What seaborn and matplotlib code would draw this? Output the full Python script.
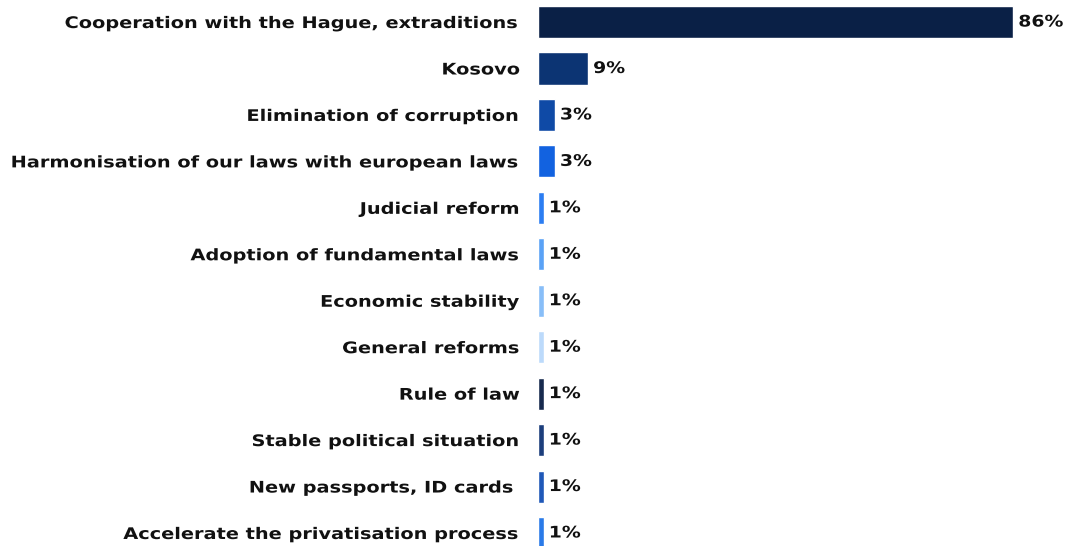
import matplotlib
matplotlib.use("Agg")
import matplotlib.pyplot as plt
import seaborn as sns
import pandas as pd
from matplotlib.patheffects import AbstractPathEffect
from matplotlib.transforms import Affine2D

categories = [
    "Cooperation with the Hague, extraditions",
    "Kosovo",
    "Elimination of corruption",
    "Harmonisation of our laws with european laws",
    "Judicial reform",
    "Adoption of fundamental laws",
    "Economic stability",
    "General reforms",
    "Rule of law",
    "Stable political situation",
    "New passports, ID cards ",
    "Accelerate the privatisation process",
]
values = [86, 9, 3, 3, 1, 1, 1, 1, 1, 1, 1, 1]
bar_colors = [
    "#0a2046", "#0c3473", "#0f4aa6", "#1262e0", "#2b7df2", "#5aa2f6",
    "#88bef8", "#bcdafb", "#172a4e", "#1c3e7c", "#1f58b8", "#2a7ae8",
]


class WideText(AbstractPathEffect):
    """Draw text glyphs stretched horizontally around one edge of the ink."""

    def __init__(self, sx=1.2, anchor="right"):
        super().__init__()
        self.sx = sx
        self.anchor = anchor

    def draw_path(self, renderer, gc, tpath, affine, rgbFace=None):
        ext = tpath.get_extents()
        x0 = ext.x1 if self.anchor == "right" else ext.x0
        stretch = Affine2D().translate(-x0, 0).scale(self.sx, 1).translate(x0, 0)
        renderer.draw_path(gc, tpath, stretch + affine, rgbFace)


df = pd.DataFrame({"category": categories, "value": values})

sns.set_theme(style="white")
plt.rcParams["font.family"] = ["DejaVu Sans"]

fig = plt.figure(figsize=(10.67, 5.46), dpi=100)
ax = fig.add_axes([538 / 1067, -0.0187, 529 / 1067, 1.0209])

sns.barplot(
    data=df, x="value", y="category", hue="category",
    palette=bar_colors, orient="h", width=0.69, legend=False,
    saturation=1, ax=ax,
)

ax.set_xlim(0, 95.8)
ax.set_ylim(11.5, -0.5)
ax.set_xlabel("")
ax.set_ylabel("")
ax.set_xticks([])
for s in ax.spines.values():
    s.set_visible(False)
ax.tick_params(axis="y", length=0, pad=13)
for lbl in ax.get_yticklabels():
    lbl.set_fontweight("bold")
    lbl.set_fontsize(11.5)
    lbl.set_color("#111111")
    lbl.set_path_effects([WideText(1.21, "right")])

for container in ax.containers:
    texts = ax.bar_label(container, fmt="%g%%", padding=4, fontsize=11.5,
                         fontweight="bold", color="#111111")
    for t in texts:
        t.set_path_effects([WideText(1.18, "left")])

fig.savefig("out.png", dpi=100)
